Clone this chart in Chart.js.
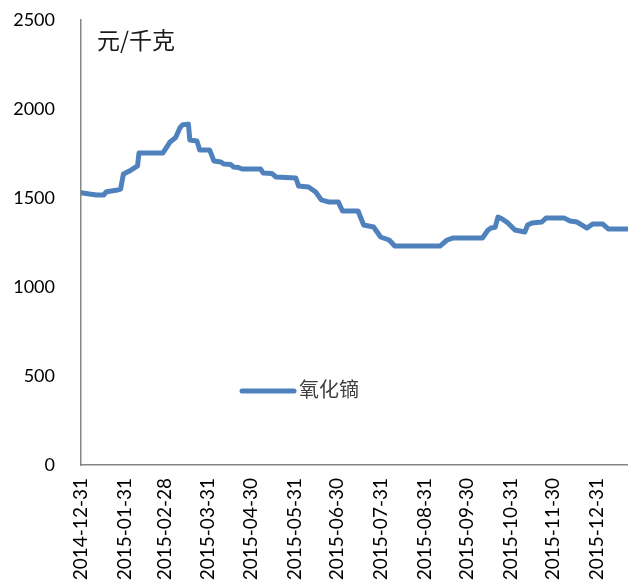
<!DOCTYPE html>
<html>
<head>
<meta charset="utf-8">
<script src="https://cdn.jsdelivr.net/npm/chart.js@4.4.1/dist/chart.umd.min.js"></script>
<style>
html,body{margin:0;padding:0;background:#fff;}
#wrap{width:628px;height:580px;position:relative;}
</style>
</head>
<body>
<div id="wrap"><canvas id="c" width="628" height="580"></canvas></div>
<script>
// ---- data ----
const seriesName = '氧化镝';
const unitLabel = '元/千克';
const dates = [
 '2014-12-31','2015-01-06','2015-01-11','2015-01-16','2015-01-18','2015-01-26','2015-01-28','2015-01-30',
 '2015-02-04','2015-02-09','2015-02-10','2015-02-27','2015-03-02','2015-03-04','2015-03-08','2015-03-11',
 '2015-03-13','2015-03-17','2015-03-18','2015-03-23','2015-03-25','2015-04-01','2015-04-04','2015-04-09',
 '2015-04-11','2015-04-16','2015-04-18','2015-04-21','2015-04-24','2015-05-07','2015-05-09','2015-05-15',
 '2015-05-18','2015-06-01','2015-06-03','2015-06-10','2015-06-15','2015-06-19','2015-06-24','2015-07-01',
 '2015-07-04','2015-07-15','2015-07-19','2015-07-26','2015-07-31','2015-08-06','2015-08-10','2015-09-11',
 '2015-09-16','2015-09-20','2015-10-11','2015-10-15','2015-10-17','2015-10-20','2015-10-22','2015-10-25',
 '2015-10-29','2015-11-03','2015-11-10','2015-11-12','2015-11-15','2015-11-22','2015-11-25','2015-12-08',
 '2015-12-12','2015-12-17','2015-12-24','2015-12-28','2016-01-04','2016-01-08','2016-01-22'
];
const prices = [
 1530,1522,1517,1517,1535,1545,1550,1635,
 1655,1680,1753,1753,1790,1815,1840,1895,
 1912,1915,1826,1820,1770,1770,1708,1702,
 1691,1688,1674,1672,1663,1663,1640,1638,
 1618,1612,1567,1562,1534,1490,1478,1478,
 1427,1427,1348,1337,1281,1264,1230,1230,
 1264,1275,1275,1320,1331,1335,1393,1382,
 1360,1320,1309,1348,1360,1365,1387,1387,
 1371,1365,1331,1354,1354,1326,1326
];
const tickLabels = ['2014-12-31','2015-01-31','2015-02-28','2015-03-31','2015-04-30','2015-05-31',
 '2015-06-30','2015-07-31','2015-08-31','2015-09-30','2015-10-31','2015-11-30','2015-12-31'];
const axisEnd = '2016-01-22';
const yTicks = [0,500,1000,1500,2000,2500];

// ---- helpers ----
const base = Date.UTC(2014,11,31);
function dayOf(s){const p=s.split('-').map(Number);return Math.round((Date.UTC(p[0],p[1]-1,p[2])-base)/86400000);}
const points = dates.map((d,i)=>({x:dayOf(d),y:prices[i]}));
const tickVals = tickLabels.map(dayOf);

const BLUE = '#4F81BD';
const AXIS = '#868686';
const NUM_FONT = 'Lato, "Liberation Sans", sans-serif';
const CJK_FONT = '"Noto Sans CJK SC", sans-serif';

const overlay = {
  id:'overlay',
  afterDraw(chart){
    const ctx = chart.ctx;
    ctx.save();
    ctx.fillStyle = '#1a1a1a';
    ctx.font = '23px ' + CJK_FONT;
    ctx.textBaseline = 'middle';
    ctx.textAlign = 'left';
    ctx.fillText(unitLabel, 97, 40);
    // legend
    ctx.strokeStyle = BLUE;
    ctx.lineWidth = 5;
    ctx.lineCap = 'round';
    ctx.beginPath(); ctx.moveTo(242,391); ctx.lineTo(294,391); ctx.stroke();
    ctx.fillStyle = '#404040';
    ctx.font = '20px ' + CJK_FONT;
    ctx.fillText(seriesName, 299, 389);
    ctx.restore();
  }
};

new Chart(document.getElementById('c'), {
  type:'line',
  data:{datasets:[{
    label:seriesName,
    data:points,
    borderColor:BLUE,
    borderWidth:5,
    pointRadius:0,
    tension:0,
    borderJoinStyle:'round',
    borderCapStyle:'round',
    fill:false
  }]},
  options:{
    responsive:false,
    animation:false,
    devicePixelRatio:1,
    layout:{padding:{top:20,right:0,left:0,bottom:0}},
    plugins:{legend:{display:false},tooltip:{enabled:false}},
    scales:{
      x:{
        type:'linear',
        min:0,
        max:dayOf(axisEnd),
        afterBuildTicks:(s)=>{ s.ticks = tickVals.map(v=>({value:v})); },
        afterFit:(s)=>{ s.height = 115; s.paddingLeft = 0; s.paddingRight = 0; },
        grid:{display:false,drawTicks:false},
        border:{display:true,color:AXIS,width:1.5},
        ticks:{
          autoSkip:false,
          maxRotation:90,minRotation:90,
          padding:13,
          color:'#000',
          font:{family:NUM_FONT,size:19},
          callback:(v,i)=>tickLabels[i]
        }
      },
      y:{
        min:0,max:2500,
        afterBuildTicks:(s)=>{ s.ticks = yTicks.map(v=>({value:v})); },
        afterFit:(s)=>{ s.width = 81; s.paddingTop = 0; s.paddingBottom = 0; },
        grid:{display:false,drawTicks:false},
        border:{display:true,color:AXIS,width:1.5},
        ticks:{
          padding:26,
          color:'#000',
          font:{family:NUM_FONT,size:18},
          callback:(v)=>String(v)
        }
      }
    }
  },
  plugins:[overlay]
});
</script>
</body>
</html>
